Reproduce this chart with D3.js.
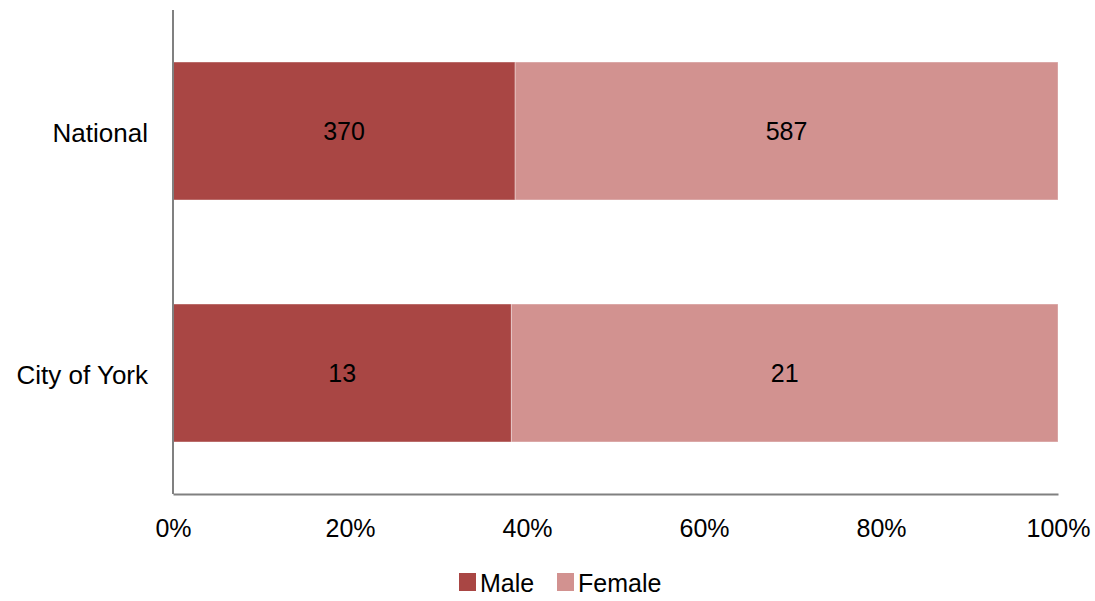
<!DOCTYPE html>
<html>
<head>
<meta charset="utf-8">
<script src="https://cdn.jsdelivr.net/npm/d3@7"></script>
<style>
  html, body { margin: 0; padding: 0; background: #fff; }
  svg text { font-family: "Liberation Sans", Arial, sans-serif; fill: #000; }
</style>
</head>
<body>
<svg id="chart" width="1095" height="601"></svg>
<script>
// Counts by sex, shown as shares of each area's total
const categories = ["National", "City of York"];
const seriesNames = ["Male", "Female"];
const maleValues = [370, 13];
const femaleValues = [587, 21];
const tickValues = [0, 0.2, 0.4, 0.6, 0.8, 1.0];
const tickLabels = ["0%", "20%", "40%", "60%", "80%", "100%"];
const colors = ["#A94644", "#D29290"];

const svg = d3.select("#chart");
const margin = { left: 173, right: 1095 - 1058, top: 10, bottom: 601 - 494 };
const width = 1095 - margin.left - margin.right;
const height = 601 - margin.top - margin.bottom;

const g = svg.append("g").attr("transform", `translate(${margin.left},${margin.top})`);

const rows = categories.map((c, i) => ({ category: c, Male: maleValues[i], Female: femaleValues[i] }));
const stacked = d3.stack().keys(seriesNames).offset(d3.stackOffsetExpand)(rows);

const x = d3.scaleLinear().domain([0, 1]).range([0, width]);
const y = d3.scaleBand().domain(categories).range([0, height]).paddingInner(0.43).paddingOuter(0.215);

// Bars
stacked.forEach((layer, li) => {
  g.append("g").selectAll("rect")
    .data(layer)
    .join("rect")
    .attr("x", d => x(d[0]))
    .attr("y", d => y(d.data.category))
    .attr("width", d => x(d[1]) - x(d[0]))
    .attr("height", y.bandwidth())
    .attr("fill", colors[li])
    .attr("stroke", "rgba(255,255,255,0.35)")
    .attr("stroke-width", 1);

  // Value labels centred in each segment
  g.append("g").selectAll("text")
    .data(layer)
    .join("text")
    .attr("x", d => (x(d[0]) + x(d[1])) / 2)
    .attr("y", d => y(d.data.category) + y.bandwidth() / 2 + 9)
    .attr("text-anchor", "middle")
    .attr("font-size", 25)
    .text(d => d.data[seriesNames[li]]);
});

// Axes
const xAxis = d3.axisBottom(x).tickValues(tickValues).tickFormat((d, i) => tickLabels[i]).tickSize(0).tickPadding(25);
const xg = g.append("g").attr("transform", `translate(0,${height})`).call(xAxis);
xg.select(".domain").attr("stroke", "#808080").attr("stroke-width", 2);
xg.selectAll("text").attr("font-size", 25).attr("font-family", "Liberation Sans, Arial, sans-serif").attr("fill", "#000");

const yAxis = d3.axisLeft(y).tickSize(0).tickPadding(25);
const yg = g.append("g").call(yAxis);
yg.select(".domain").attr("stroke", "#808080").attr("stroke-width", 2).attr("d", `M0,0V${height}`);
yg.selectAll("text").attr("font-size", 26).attr("dy", "0.42em").attr("font-family", "Liberation Sans, Arial, sans-serif").attr("fill", "#000");

// Legend
const legend = svg.append("g").attr("transform", "translate(459,573)");
const legendX = [0, 98];
seriesNames.forEach((name, i) => {
  const item = legend.append("g").attr("transform", `translate(${legendX[i]},0)`);
  item.append("rect").attr("width", 17).attr("height", 18).attr("fill", colors[i]);
  item.append("text").attr("x", 21).attr("y", 19).attr("font-size", 25).text(name);
});
</script>
</body>
</html>
